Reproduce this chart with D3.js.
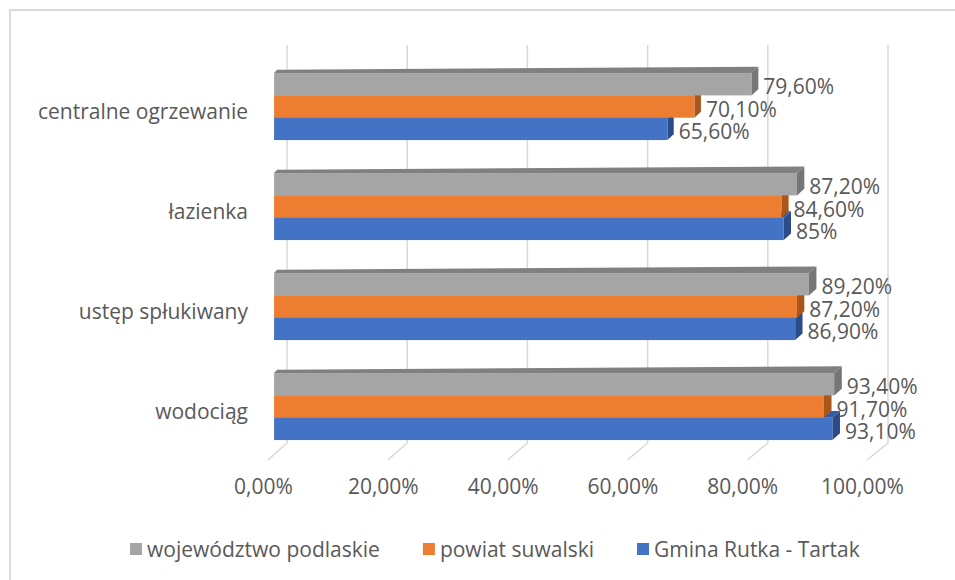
<!DOCTYPE html>
<html>
<head>
<meta charset="utf-8">
<script src="https://cdn.jsdelivr.net/npm/d3@7"></script>
<style>
  html, body { margin: 0; padding: 0; background: #ffffff; }
  svg { display: block; }
  text { font-family: "Open Sans", "Liberation Sans", sans-serif; fill: #595959; }
</style>
</head>
<body>
<svg id="chart" width="955" height="580"></svg>
<script>
// Categories (top to bottom) and series
const categories = ["centralne ogrzewanie", "łazienka", "ustęp spłukiwany", "wodociąg"];
const seriesNames = ["województwo podlaskie", "powiat suwalski", "Gmina Rutka - Tartak"];
const wojewodztwoPodlaskie = [79.6, 87.2, 89.2, 93.4];
const powiatSuwalski = [70.1, 84.6, 87.2, 91.7];
const gminaRutkaTartak = [65.6, 85, 86.9, 93.1];
const tickValues = [0, 20, 40, 60, 80, 100];
const tickLabels = ["0,00%", "20,00%", "40,00%", "60,00%", "80,00%", "100,00%"];

const seriesValues = [wojewodztwoPodlaskie, powiatSuwalski, gminaRutkaTartak];
const palette = [
  { front: "#A5A5A5", top: "#808080", side: "#767676" },
  { front: "#ED7D31", top: "#B9601F", side: "#A9561C" },
  { front: "#4472C4", top: "#345BA0", side: "#2C4C88" }
];

const FONT = "'Open Sans', 'Liberation Sans', sans-serif";
const FS = 21;

const fmt = v => Number.isInteger(v) ? v + "%" : v.toFixed(2).replace(".", ",") + "%";

const svg = d3.select("#chart");

// chart area frame
svg.append("rect")
  .attr("x", 10).attr("y", 10).attr("width", 960).attr("height", 590)
  .attr("fill", "#ffffff").attr("stroke", "#D9D9D9").attr("stroke-width", 2);

// front plane scales (oblique 3D projection)
const x = d3.scaleLinear().domain([0, 100]).range([268, 867]);
const y = d3.scaleBand().domain(categories).range([62, 462]).paddingInner(0.33).paddingOuter(0.165);
const ySeries = d3.scaleBand().domain(seriesNames).range([0, y.bandwidth()]);

const floorFront = 460;
// full depth vector of the plot box at a value
const depthX = d3.scaleLinear().domain([0, 100]).range([19, 21]);
const depthY = -17;
const wallTop = 45;

// bars sit a little behind the front plane
const barDepth0 = 0.32;
// visible thickness of each bar (grows slightly toward the right)
const barDX = d3.scaleLinear().domain([0, 100]).range([3, 8]);
const barDY = d3.scaleLinear().domain([0, 100]).range([-3.3, -7]);

// gridlines: back wall verticals + floor diagonals
const grid = svg.append("g").attr("stroke", "#D9D9D9").attr("stroke-width", 1.5).attr("fill", "none");
tickValues.forEach(v => {
  const bx = x(v) + depthX(v);
  const by = floorFront + depthY;
  grid.append("path").attr("d", `M${bx},${wallTop}L${bx},${by}L${x(v)},${floorFront}`);
});

// bars: bottom series first so upper bars overlap correctly
const barsG = svg.append("g");
const labelsG = svg.append("g");
categories.forEach((cat, ci) => {
  for (let si = seriesNames.length - 1; si >= 0; si--) {
    const v = seriesValues[si][ci];
    const c = palette[si];
    const shX = barDepth0 * depthX(0);
    const shY = barDepth0 * depthY;
    const x0 = x(0) + shX;
    const x1 = x(v) + barDepth0 * depthX(v);
    const yT = y(cat) + ySeries(seriesNames[si]) + shY;
    const yB = yT + ySeries.bandwidth();
    const d0x = barDX(0), d0y = barDY(0);
    const d1x = barDX(v), d1y = barDY(v);
    const g = barsG.append("g");
    // top face
    g.append("path")
      .attr("d", `M${x0},${yT}L${x1},${yT}L${x1 + d1x},${yT + d1y}L${x0 + d0x},${yT + d0y}Z`)
      .attr("fill", c.top);
    // right side face
    g.append("path")
      .attr("d", `M${x1},${yT}L${x1 + d1x},${yT + d1y}L${x1 + d1x},${yB + d1y}L${x1},${yB}Z`)
      .attr("fill", c.side);
    // front face
    g.append("rect")
      .attr("x", x0).attr("y", yT).attr("width", x1 - x0).attr("height", yB - yT)
      .attr("fill", c.front);
    // value label
    labelsG.append("text")
      .attr("x", x1 + d1x + 5)
      .attr("y", (yT + yB) / 2 + 2)
      .attr("dominant-baseline", "central")
      .attr("font-size", FS)
      .text(fmt(v));
  }
});

// category axis
const yAxis = svg.append("g")
  .attr("transform", "translate(254,0)")
  .call(d3.axisLeft(y).tickSize(0).tickPadding(6));
yAxis.select(".domain").remove();
yAxis.selectAll("text")
  .attr("font-size", FS)
  .style("font-family", FONT)
  .attr("fill", "#595959");

// value axis labels
const xAxis = svg.append("g")
  .attr("transform", "translate(-5,479)")
  .call(d3.axisBottom(x).tickValues(tickValues).tickFormat((d, i) => tickLabels[i]).tickSize(0).tickPadding(0));
xAxis.select(".domain").remove();
xAxis.selectAll("text")
  .attr("font-size", FS)
  .style("font-family", FONT)
  .attr("fill", "#595959");

// legend
const legend = svg.append("g").attr("transform", "translate(130,549)");
let lx = 0;
seriesNames.forEach((name, i) => {
  const item = legend.append("g").attr("transform", `translate(${lx},0)`);
  item.append("rect").attr("x", 0).attr("y", -6).attr("width", 12).attr("height", 12)
    .attr("fill", palette[i].front);
  const t = item.append("text").attr("x", 17).attr("y", 0)
    .attr("dominant-baseline", "central").attr("font-size", FS).text(name);
  lx += 17 + t.node().getComputedTextLength() + 43;
});
</script>
</body>
</html>
